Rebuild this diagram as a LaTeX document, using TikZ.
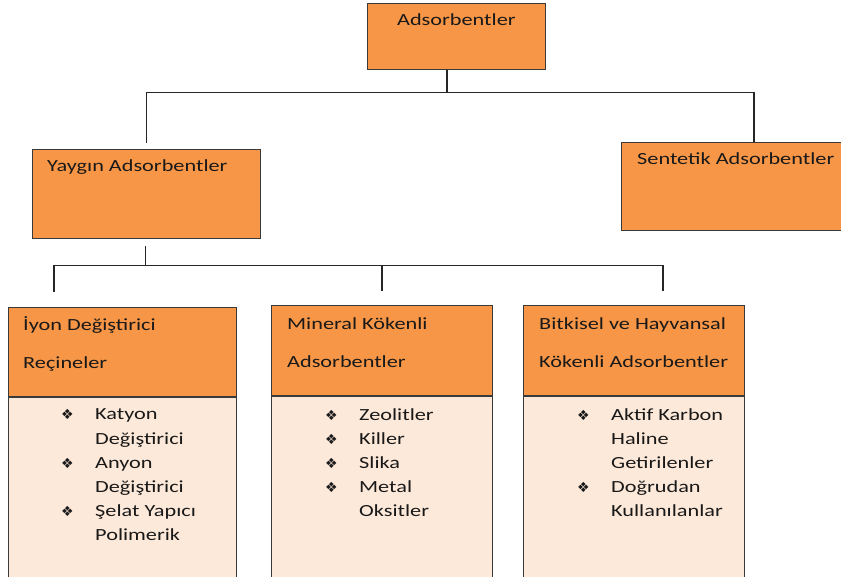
\documentclass[tikz,border=0pt]{standalone}
\usepackage{fontspec}
\setmainfont{Carlito}[FakeStretch=1.31]
\newfontfamily\simgefont{DejaVu Sans}
\usetikzlibrary{positioning, calc}
\usepackage{xcolor}
\definecolor{turuncu}{HTML}{F79646}
\definecolor{acik}{HTML}{FDE9D9}
\definecolor{kenar}{HTML}{3A3A3A}

\newcommand{\madde}{\makebox[34pt][l]{\simgefont\fontsize{14}{14}\selectfont ❖}}
\newcommand{\bosluk}{\hspace*{34pt}}

\begin{document}
\begin{tikzpicture}[
				x=1pt, y=-1pt,
				node distance=0pt, % govde basligin hemen altinda
				% --- Stiller ---
				baslik/.style={
					draw=kenar,
					fill=turuncu,
					rectangle,
					line width=0.8pt
				},
				govde/.style={
					draw=kenar,
					fill=acik,
					rectangle,
					line width=0.8pt
				},
				% cok satirli yazilarda base = son satir
				yazi/.style={
					anchor=base west,
					inner sep=0pt,
					align=left,
					text=black!90,
					font=\fontsize{17}{38.5}\selectfont
				},
				liste/.style={
					anchor=base west,
					inner sep=0pt,
					align=left,
					text=black!90,
					font=\fontsize{17}{24.2}\selectfont
				},
				baglanti/.style={
					line width=1.2pt,
					draw=black!85
				}
				]
				\useasboundingbox (0,0) rectangle (841,577);
				
				% 1. Ust seviye kutular
				\node[baslik, anchor=north west, minimum width=178, minimum height=66] (kok) at (367,3) {};
				\node[baslik, anchor=north west, minimum width=228, minimum height=89] (yaygin) at (32,149) {};
				\node[baslik, anchor=north west, minimum width=223, minimum height=88] (sentetik) at (621,142) {};
				
				\node[yazi, anchor=base] (koktxt) at ($(kok.north)+(0,23)$) {Adsorbentler};
				\node[yazi] (yaygintxt) at ($(yaygin.north west)+(15,23)$) {Yaygın Adsorbentler};
				\node[yazi] (sentetiktxt) at ($(sentetik.north west)+(16,23)$) {Sentetik Adsorbentler};
				
				% 2. Alt seviye: baslik + govde
				\node[baslik, anchor=north west, minimum width=228, minimum height=89] (iyon) at (8,307) {};
				\node[govde, below=of iyon, minimum width=228, minimum height=180] (iyongovde) {};
				\node[baslik, anchor=north west, minimum width=221, minimum height=90] (mineral) at (271,305) {};
				\node[govde, below=of mineral, minimum width=221, minimum height=181] (mineralgovde) {};
				\node[baslik, anchor=north west, minimum width=221, minimum height=90] (bitkisel) at (523,305) {};
				\node[govde, below=of bitkisel, minimum width=221, minimum height=181] (bitkiselgovde) {};
				
				\node[yazi] (iyontxt) at ($(iyon.north west)+(15,62)$) {İyon Değiştirici\\Reçineler};
				\node[yazi] (mineraltxt) at ($(mineral.north west)+(16,63)$) {Mineral Kökenli\\Adsorbentler};
				\node[yazi] (bitkiseltxt) at ($(bitkisel.north west)+(16,63)$) {Bitkisel ve Hayvansal\\Kökenli Adsorbentler};
				
				% 3. Maddeler
				\node[liste] (iyonliste) at ($(iyongovde.north west)+(53,144)$)
				{\madde Katyon\\\bosluk Değiştirici\\\madde Anyon\\\bosluk Değiştirici\\\madde Şelat Yapıcı\\\bosluk Polimerik};
				\node[liste] (mineralliste) at ($(mineralgovde.north west)+(54,121)$)
				{\madde Zeolitler\\\madde Killer\\\madde Slika\\\madde Metal\\\bosluk Oksitler};
				\node[liste] (bitkiselliste) at ($(bitkiselgovde.north west)+(54,121)$)
				{\madde Aktif Karbon\\\bosluk Haline\\\bosluk Getirilenler\\\madde Doğrudan\\\bosluk Kullanılanlar};
				
				% 4. Baglanti cizgileri
				\coordinate (ayrim1) at (447,92.5);
				\coordinate (sentetikust) at (754,142);
				\draw[baglanti] (kok.south -| ayrim1) -- (ayrim1);
				\draw[baglanti] ($(yaygin.north)+(0,-6)$) |- (sentetikust |- ayrim1) -- (sentetikust);
				
				\coordinate (ayrim2) at ($(yaygin.south)+(-1,27)$);
				\coordinate (iyonust) at ($(iyon.north west)+(46,-15)$);
				\coordinate (mineralust) at ($(mineral.north)+(0,-14)$);
				\coordinate (bitkiselust) at ($(bitkisel.north west)+(140,-14)$);
				\draw[baglanti] ($(yaygin.south)+(-1,7)$) -- (ayrim2);
				\draw[baglanti] (iyonust) |- (bitkiselust |- ayrim2) -- (bitkiselust);
				\draw[baglanti] (mineralust) -- (mineralust |- ayrim2);
				
			\end{tikzpicture}
\end{document}
